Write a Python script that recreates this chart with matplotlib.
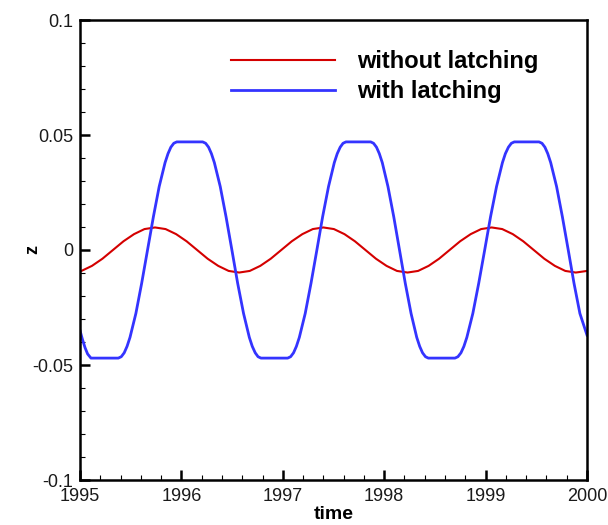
import matplotlib
matplotlib.use("Agg")
import matplotlib.pyplot as plt
from matplotlib.ticker import MultipleLocator, FormatStrFormatter

plt.rcParams['font.family'] = ['Liberation Sans', 'DejaVu Sans']

# heave response, no latching control
t_free = [1995.000, 1995.014, 1995.118, 1995.221, 1995.325, 1995.429, 1995.533, 1995.636,
          1995.740, 1995.844, 1995.948, 1996.051, 1996.155, 1996.259, 1996.363, 1996.466,
          1996.570, 1996.674, 1996.778, 1996.881, 1996.985, 1997.089, 1997.193, 1997.296,
          1997.400, 1997.504, 1997.608, 1997.711, 1997.815, 1997.919, 1998.023, 1998.126,
          1998.230, 1998.334, 1998.438, 1998.541, 1998.645, 1998.749, 1998.853, 1998.956,
          1999.060, 1999.164, 1999.268, 1999.371, 1999.475, 1999.579, 1999.683, 1999.786,
          1999.890, 2000.000]
z_free = [-0.0093, -0.0091, -0.0069, -0.0038, 0.0, 0.0038, 0.0069, 0.0091,
          0.0098, 0.0091, 0.0069, 0.0038, 0.0, -0.0038, -0.0069, -0.0091,
          -0.0098, -0.0091, -0.0069, -0.0038, 0.0, 0.0038, 0.0069, 0.0091,
          0.0098, 0.0091, 0.0069, 0.0038, 0.0, -0.0038, -0.0069, -0.0091,
          -0.0098, -0.0091, -0.0069, -0.0038, 0.0, 0.0038, 0.0069, 0.0091,
          0.0098, 0.0091, 0.0069, 0.0038, 0.0, -0.0038, -0.0069, -0.0091,
          -0.0098, -0.0091]

# heave response with latching (held at the extremes)
t_latch = [1995.000, 1995.025, 1995.050, 1995.075, 1995.108,
           1995.378, 1995.407, 1995.436, 1995.464, 1995.493, 1995.551, 1995.608, 1995.666,
           1995.724, 1995.781, 1995.839, 1995.868, 1995.896, 1995.925, 1995.954,
           1996.210, 1996.239, 1996.268, 1996.296, 1996.325, 1996.383, 1996.440, 1996.498,
           1996.555, 1996.613, 1996.670, 1996.699, 1996.728, 1996.756, 1996.785,
           1997.048, 1997.077, 1997.106, 1997.134, 1997.163, 1997.221, 1997.278, 1997.336,
           1997.393, 1997.451, 1997.508, 1997.537, 1997.566, 1997.594, 1997.623,
           1997.867, 1997.895, 1997.924, 1997.952, 1997.981, 1998.037, 1998.094, 1998.151,
           1998.208, 1998.265, 1998.321, 1998.350, 1998.378, 1998.407, 1998.435,
           1998.698, 1998.727, 1998.757, 1998.786, 1998.815, 1998.874, 1998.932, 1998.991,
           1999.049, 1999.108, 1999.166, 1999.195, 1999.225, 1999.254, 1999.283,
           1999.527, 1999.556, 1999.585, 1999.613, 1999.642, 1999.700, 1999.757, 1999.815,
           1999.872, 1999.930, 2000.000]
z_latch = [-0.0350, -0.0390, -0.0425, -0.0452, -0.0470,
           -0.0470, -0.0464, -0.0447, -0.0419, -0.0380, -0.0276, -0.0145, 0.0,
           0.0145, 0.0276, 0.0380, 0.0419, 0.0447, 0.0464, 0.0470,
           0.0470, 0.0464, 0.0447, 0.0419, 0.0380, 0.0276, 0.0145, 0.0,
           -0.0145, -0.0276, -0.0380, -0.0419, -0.0447, -0.0464, -0.0470,
           -0.0470, -0.0464, -0.0447, -0.0419, -0.0380, -0.0276, -0.0145, 0.0,
           0.0145, 0.0276, 0.0380, 0.0419, 0.0447, 0.0464, 0.0470,
           0.0470, 0.0464, 0.0447, 0.0419, 0.0380, 0.0276, 0.0145, 0.0,
           -0.0145, -0.0276, -0.0380, -0.0419, -0.0447, -0.0464, -0.0470,
           -0.0470, -0.0464, -0.0447, -0.0419, -0.0380, -0.0276, -0.0145, 0.0,
           0.0145, 0.0276, 0.0380, 0.0419, 0.0447, 0.0464, 0.0470,
           0.0470, 0.0464, 0.0447, 0.0419, 0.0380, 0.0276, 0.0145, 0.0,
           -0.0145, -0.0276, -0.0370]

fig = plt.figure(figsize=(6.08, 5.25), dpi=100)
ax = fig.add_axes([80 / 608, 45 / 525, 507 / 608, 460 / 525])

ax.plot(t_free, z_free, color='#d40000', lw=1.5, label='without latching')
ax.plot(t_latch, z_latch, color='#3434ff', lw=2.0, label='with latching')

ax.set_xlim(1995, 2000)
ax.set_ylim(-0.1, 0.1)
ax.xaxis.set_major_locator(MultipleLocator(1))
ax.xaxis.set_minor_locator(MultipleLocator(0.2))
ax.yaxis.set_major_locator(MultipleLocator(0.05))
ax.yaxis.set_minor_locator(MultipleLocator(0.01))
ax.xaxis.set_major_formatter(FormatStrFormatter('%d'))
ax.yaxis.set_major_formatter(plt.FuncFormatter(lambda v, p: '0' if abs(v) < 1e-9 else ('%g' % v)))

for s in ax.spines.values():
    s.set_linewidth(1.8)
ax.tick_params(which='major', direction='in', length=7, width=1.8, labelsize=13, pad=5,
               labelcolor='#1a1a1a', top=False, right=False)
ax.tick_params(which='minor', direction='in', length=3.5, width=0.8, top=False, right=False)
ax.tick_params(axis='x', which='major', pad=6)

ax.set_xlabel('time', fontsize=14, fontweight='bold')
ax.xaxis.set_label_coords(0.5, -0.057)
ax.set_ylabel('z', fontsize=13, fontweight='bold')
ax.yaxis.set_label_coords(-0.077, 0.5)

ax.legend(loc='upper left', bbox_to_anchor=(0.298, 0.935), frameon=False,
          handlelength=4.4, handletextpad=0.95, labelspacing=0.3, borderpad=0, borderaxespad=0,
          prop={'size': 17, 'weight': 'bold'})

fig.savefig('out.png', dpi=100)
